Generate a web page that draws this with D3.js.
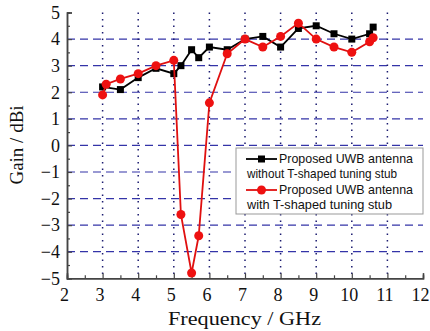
<!DOCTYPE html>
<html>
<head>
<meta charset="utf-8">
<script src="https://cdn.jsdelivr.net/npm/d3@7"></script>
<style>
  body { margin: 0; background: #fff; }
  svg { display: block; }
</style>
</head>
<body>
<div id="container"></div>
<script>
const freqBlack = [3, 3.5, 4, 4.5, 5, 5.2, 5.5, 5.7, 6, 6.5, 7, 7.5, 8, 8.5, 9, 9.5, 10, 10.5, 10.6];
const gainBlack = [2.2, 2.1, 2.55, 2.9, 2.7, 3.0, 3.6, 3.3, 3.7, 3.6, 4.0, 4.1, 3.7, 4.4, 4.5, 4.2, 4.0, 4.2, 4.45];
const freqRed = [3, 3.1, 3.5, 4, 4.5, 5, 5.2, 5.5, 5.7, 6, 6.5, 7, 7.5, 8, 8.5, 9, 9.5, 10, 10.5, 10.6];
const gainRed = [1.9, 2.3, 2.5, 2.7, 3.0, 3.2, -2.6, -4.8, -3.4, 1.6, 3.45, 4.0, 3.7, 4.1, 4.6, 4.0, 3.7, 3.5, 3.9, 4.05];
const xTicks = [2, 3, 4, 5, 6, 7, 8, 9, 10, 11, 12];
const yTicks = [-5, -4, -3, -2, -1, 0, 1, 2, 3, 4, 5];
const legendLabels = [
    ['Proposed UWB antenna', 'without T-shaped tuning stub'],
    ['Proposed UWB antenna', 'with T-shaped tuning stub']
];

const width = 430;
const height = 331;

const svg = d3.select('#container')
              .append('svg')
              .attr('width', width)
              .attr('height', height);

const x = d3.scaleLinear().domain([2, 12]).range([67, 423]);
const y = d3.scaleLinear().domain([-5, 5]).range([278.3, 12.5]);

// grid
svg.append('g')
   .selectAll('line')
   .data(yTicks.filter(d => d > -5 && d < 5))
   .enter()
   .append('line')
   .attr('x1', x(2))
   .attr('x2', x(12))
   .attr('y1', d => y(d))
   .attr('y2', d => y(d))
   .attr('stroke', '#3434a8')
   .attr('stroke-width', 1.2)
   .attr('stroke-dasharray', '8,5');

svg.append('g')
   .selectAll('line')
   .data(xTicks.filter(d => d > 2 && d < 12))
   .enter()
   .append('line')
   .attr('x1', d => x(d))
   .attr('x2', d => x(d))
   .attr('y1', y(5))
   .attr('y2', y(-5))
   .attr('stroke', '#1c1c70')
   .attr('stroke-width', 1.5)
   .attr('stroke-dasharray', '1.5,5');

// axes
const xAxis = d3.axisBottom(x).tickValues(xTicks).tickSize(-5).tickPadding(10).tickFormat(d3.format('d'));
const xMinor = d3.axisBottom(x).tickValues(d3.range(2.5, 12, 1)).tickSize(-3).tickFormat('');
const yAxis = d3.axisLeft(y).tickValues(yTicks).tickSize(-5).tickPadding(7)
                .tickFormat(d => d < 0 ? '\u2212' + Math.abs(d) : d);
const yMinor = d3.axisLeft(y).tickValues(d3.range(-4.5, 5, 1)).tickSize(-3).tickFormat('');

function styleAxis(g) {
    g.select('.domain').attr('stroke', '#444').attr('stroke-width', 1.5);
    g.selectAll('.tick line').attr('stroke', '#444').attr('stroke-width', 1.2);
    g.selectAll('.tick text')
     .attr('fill', '#111')
     .style('font-family', '"Liberation Serif", "Times New Roman", serif')
     .style('font-size', '18px');
}

svg.append('g').attr('transform', 'translate(0,' + y(-5) + ')').call(xMinor).call(styleAxis);
svg.append('g').attr('transform', 'translate(0,' + y(-5) + ')').call(xAxis).call(styleAxis)
   .selectAll('.tick text').attr('dx', -3);
svg.append('g').attr('transform', 'translate(' + x(2) + ',0)').call(yMinor).call(styleAxis);
svg.append('g').attr('transform', 'translate(' + x(2) + ',0)').call(yAxis).call(styleAxis);

svg.append('text')
   .attr('x', 168)
   .attr('y', 325)
   .attr('textLength', 153)
   .attr('lengthAdjust', 'spacingAndGlyphs')
   .style('font-family', '"Liberation Serif", "Times New Roman", serif')
   .style('font-size', '19px')
   .attr('fill', '#111')
   .text('Frequency / GHz');

svg.append('text')
   .attr('transform', 'translate(23,145) rotate(-90)')
   .attr('text-anchor', 'middle')
   .style('font-family', '"Liberation Serif", "Times New Roman", serif')
   .style('font-size', '19px')
   .attr('fill', '#111')
   .text('Gain / dBi');

// series
const line = d3.line().x(d => x(d[0])).y(d => y(d[1]));
const black = d3.zip(freqBlack, gainBlack);
const red = d3.zip(freqRed, gainRed);

svg.append('path')
   .datum(black)
   .attr('d', line)
   .attr('fill', 'none')
   .attr('stroke', '#000')
   .attr('stroke-width', 1.8);

svg.append('g')
   .selectAll('rect')
   .data(black)
   .enter()
   .append('rect')
   .attr('x', d => x(d[0]) - 3.5)
   .attr('y', d => y(d[1]) - 3.5)
   .attr('width', 7)
   .attr('height', 7)
   .attr('fill', '#000');

svg.append('path')
   .datum(red)
   .attr('d', line)
   .attr('fill', 'none')
   .attr('stroke', '#e01010')
   .attr('stroke-width', 1.8);

svg.append('g')
   .selectAll('circle')
   .data(red)
   .enter()
   .append('circle')
   .attr('cx', d => x(d[0]))
   .attr('cy', d => y(d[1]))
   .attr('r', 4.5)
   .attr('fill', '#ee1111');

// legend
const legend = svg.append('g').attr('transform', 'translate(236,148)');
legend.append('rect')
      .attr('width', 187)
      .attr('height', 66)
      .attr('fill', '#fff')
      .attr('stroke', '#999')
      .attr('stroke-width', 1);

const legendColors = ['#000', '#e01010'];
const firstLen = [134, 134];
const secondLen = [150, 145];
legendLabels.forEach((lab, i) => {
    const top = i * 31;
    legend.append('line')
          .attr('x1', 10).attr('x2', 41)
          .attr('y1', top + 11).attr('y2', top + 11)
          .attr('stroke', legendColors[i])
          .attr('stroke-width', 1.8);
    if (i === 0) {
        legend.append('rect')
              .attr('x', 22).attr('y', top + 7.5)
              .attr('width', 7).attr('height', 7)
              .attr('fill', '#000');
    } else {
        legend.append('circle')
              .attr('cx', 25.5).attr('cy', top + 11)
              .attr('r', 4.5)
              .attr('fill', '#ee1111');
    }
    legend.append('text')
          .attr('x', 43).attr('y', top + 15)
          .attr('textLength', firstLen[i])
          .attr('lengthAdjust', 'spacingAndGlyphs')
          .style('font-family', '"Liberation Sans", Arial, sans-serif')
          .style('font-size', '13px')
          .attr('fill', '#111')
          .text(lab[0]);
    legend.append('text')
          .attr('x', 11).attr('y', top + 30)
          .attr('textLength', secondLen[i])
          .attr('lengthAdjust', 'spacingAndGlyphs')
          .style('font-family', '"Liberation Sans", Arial, sans-serif')
          .style('font-size', '13px')
          .attr('fill', '#111')
          .text(lab[1]);
});
</script>
</body>
</html>
